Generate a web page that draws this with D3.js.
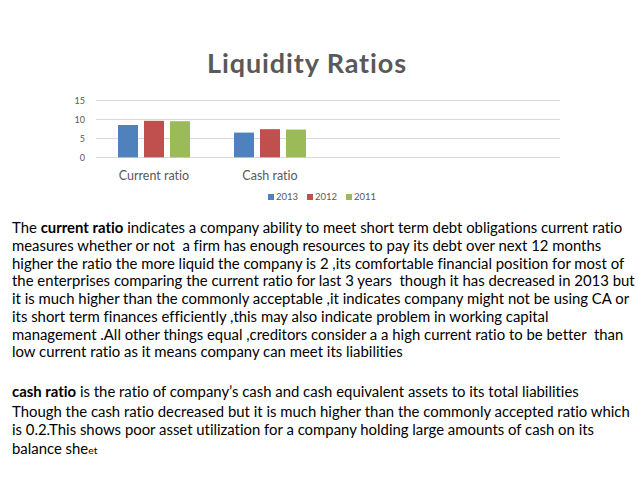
<!DOCTYPE html>
<html>
<head>
<meta charset="utf-8">
<script src="https://cdn.jsdelivr.net/npm/d3@7"></script>
<style>
  body { margin: 0; background: #fff; }
  svg { display: block; }
  text { font-family: Lato, "Open Sans", sans-serif; font-variant-ligatures: none; }
  .para text { white-space: pre; }
</style>
</head>
<body>
<svg id="chart" width="638" height="479"></svg>
<script>
// chart data
const categories = ["Current ratio", "Cash ratio", "", ""];
const years = ["2013", "2012", "2011"];
const values2013 = [8.5, 6.5];
const values2012 = [9.6, 7.4];
const values2011 = [9.5, 7.3];
const yTicks = [0, 5, 10, 15];
const colors = ["#4f81bd", "#c0504d", "#9bbb59"];

// paragraph text, each line is a list of [text, bold]
const block1 = [
  [["The ", false], ["current ratio", true], [" indicates a company ability to meet short term debt obligations current ratio", false]],
  [["measures whether or not  a firm has enough resources to pay its debt over next 12 months", false]],
  [["higher the ratio the more liquid the company is 2 ,its comfortable financial position for most of", false]],
  [["the enterprises comparing the current ratio for last 3 years  though it has decreased in 2013 but", false]],
  [["it is much higher than the commonly acceptable ,it indicates company might not be using CA or", false]],
  [["its short term finances efficiently ,this may also indicate problem in working capital", false]],
  [["management .All other things equal ,creditors consider a a high current ratio to be better  than", false]],
  [["low current ratio as it means company can meet its liabilities", false]]
];
const block2 = [
  [["cash ratio", true], [" is the ratio of company\u2019s cash and cash equivalent assets to its total liabilities", false]],
  [["Though the cash ratio decreased but it is much higher than the commonly accepted ratio which", false]],
  [["is 0.2.This shows poor asset utilization for a company holding large amounts of cash on its", false]],
  [["balance she", false], ["et", "small"]]
];

const svg = d3.select("#chart");
const textColor = "#595959";

const series = years.map((y, i) => ({
  year: y,
  color: colors[i],
  values: [values2013, values2012, values2011][i]
}));

// scales
const x = d3.scaleBand().domain(categories.map((c, i) => i)).range([96, 560]);
const xInner = d3.scaleBand().domain(years).range([22, 94]).paddingInner(0.23);
const y = d3.scaleLinear().domain([0, 15]).range([157.3, 100.3]);

// title
svg.append("text")
  .attr("x", 307)
  .attr("y", 73)
  .attr("text-anchor", "middle")
  .attr("font-size", 27)
  .attr("font-weight", "bold")
  .attr("letter-spacing", 0.9)
  .attr("fill", textColor)
  .text("Liquidity Ratios");

// gridlines
svg.append("g")
  .selectAll("line")
  .data(yTicks)
  .join("line")
  .attr("x1", 96)
  .attr("x2", 560)
  .attr("y1", d => Math.round(y(d)) + 0.5)
  .attr("y2", d => Math.round(y(d)) + 0.5)
  .attr("stroke", "#d9d9d9")
  .attr("stroke-width", 1);

// y axis labels
const yAxis = svg.append("g")
  .attr("transform", "translate(88,0)")
  .call(d3.axisLeft(y).tickValues(yTicks).tickSize(0).tickPadding(3));
yAxis.select(".domain").remove();
yAxis.selectAll("text")
  .attr("font-family", "Lato, sans-serif")
  .attr("font-size", 9)
  .attr("fill", textColor);

// bars
const groups = svg.append("g")
  .selectAll("g")
  .data(series)
  .join("g")
  .attr("fill", d => d.color);

groups.selectAll("rect")
  .data(d => d.values.map((v, i) => ({ v: v, i: i, year: d.year })))
  .join("rect")
  .attr("x", d => x(d.i) + xInner(d.year))
  .attr("width", xInner.bandwidth())
  .attr("y", d => y(d.v))
  .attr("height", d => y(0) - y(d.v));

// category labels
const xAxis = svg.append("g")
  .attr("transform", "translate(0,157)")
  .call(d3.axisBottom(x).tickFormat(i => categories[i]).tickSize(0).tickPadding(14));
xAxis.select(".domain").remove();
xAxis.selectAll("text")
  .attr("font-family", "Lato, sans-serif")
  .attr("font-size", 12.5)
  .attr("fill", textColor);

// legend
const legend = svg.append("g").attr("transform", "translate(268,197)");
const item = legend.selectAll("g")
  .data(series)
  .join("g")
  .attr("transform", (d, i) => `translate(${i * 39},0)`);
item.append("rect")
  .attr("x", 0)
  .attr("y", -3)
  .attr("width", 6)
  .attr("height", 6)
  .attr("fill", d => d.color);
item.append("text")
  .attr("x", 8)
  .attr("y", 3.3)
  .attr("font-size", 9.5)
  .attr("fill", textColor)
  .text(d => d.year);

// paragraphs
const para = svg.append("g").attr("class", "para");

function drawLines(lines, baselines, fs) {
  const t = para.append("g")
    .selectAll("text")
    .data(lines)
    .join("text")
    .attr("x", 12)
    .attr("y", (d, i) => baselines[i])
    .attr("font-size", fs)
    .attr("fill", "#000");
  t.selectAll("tspan")
    .data(d => d)
    .join("tspan")
    .attr("font-weight", d => d[1] === true ? "bold" : null)
    .attr("font-size", d => d[1] === "small" ? fs * 0.7 : null)
    .text(d => d[0]);
  return t;
}

// fit font size so that the first line spans about 610px
let fs = 14.67;
const probe = para.append("text").attr("font-size", fs).style("white-space", "pre");
probe.selectAll("tspan").data(block1[0]).join("tspan")
  .attr("font-weight", d => d[1] === true ? "bold" : null)
  .text(d => d[0]);
fs = fs * 610 / probe.node().getComputedTextLength();
probe.remove();

drawLines(block1, d3.range(8).map(i => 233 + i * 17.75), fs);
drawLines(block2, [397, 416.5, 435, 453.5], fs);
</script>
</body>
</html>
